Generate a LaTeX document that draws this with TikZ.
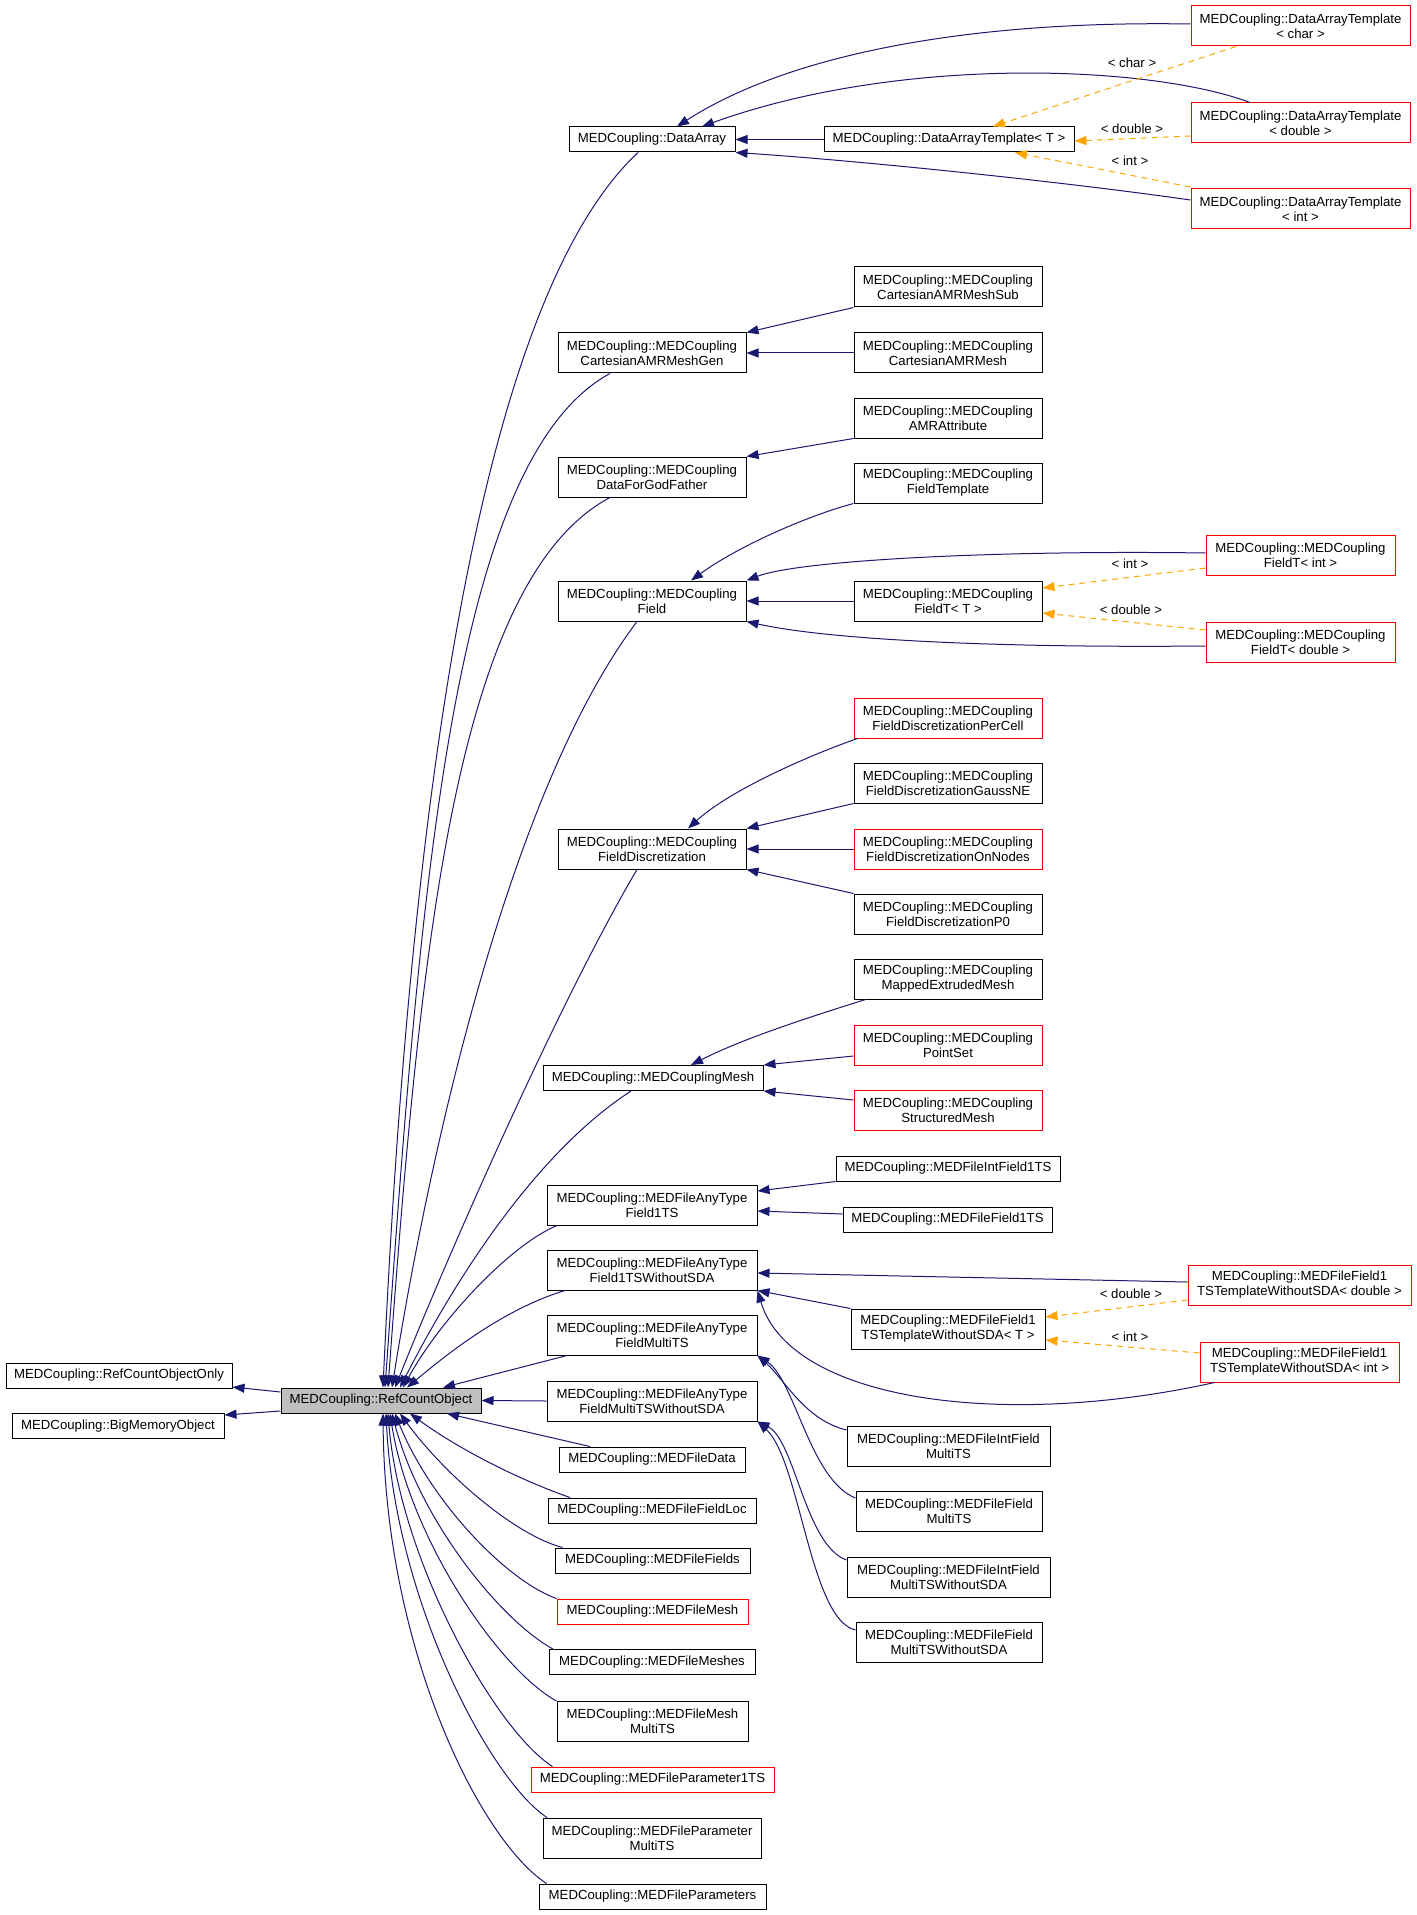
\documentclass[tikz,border=0pt]{standalone}
\usepackage{fontspec}
\setmainfont{Liberation Sans}
\usepackage{tikz}
\usetikzlibrary{arrows.meta, positioning, calc}
\definecolor{dxblue}{RGB}{25,25,112}
\definecolor{dxorange}{RGB}{255,165,0}
\definecolor{dxred}{RGB}{255,0,0}
\definecolor{dxgray}{RGB}{191,191,191}
\newcommand{\dxfont}{\fontsize{6.6}{7.5}\selectfont}
\tikzset{
  cls/.style={rectangle, draw=black, fill=white, line width=0.5pt,
    inner sep=0pt, align=center, font=\dxfont, minimum height=12.5pt},
  cls2/.style={cls, minimum height=20pt},
  redcls/.style={cls, draw=dxred},
  redcls2/.style={cls2, draw=dxred},
  rootcls/.style={cls, fill=dxgray},
  inh/.style={-{Triangle[length=6pt,width=4.5pt]}, draw=dxblue, line width=0.5pt},
  tpl/.style={-{Triangle[length=6pt,width=4.5pt]}, draw=dxorange,
    dash pattern=on 3pt off 2.5pt, line width=0.5pt},
  tlbl/.style={font=\dxfont, inner sep=0pt}
}

\begin{document}
\begin{tikzpicture}[x=0.5pt, y=-0.5pt]
  \useasboundingbox[fill=white] (0,0) rectangle (1417,1915);

  % --- root and its parents ---
  \node[rootcls, minimum width=100pt] (rco) at (381,1400.5) {MEDCoupling::RefCountObject};
  \node[cls, minimum width=113pt] (ronly) at (119,1375.5) {MEDCoupling::RefCountObjectOnly};
  \node[cls, minimum width=106pt] (bigmem) at (118,1426) {MEDCoupling::BigMemoryObject};

  % --- second column ---
  \node[cls, minimum width=83pt] (dataArray) at (652,139.5) {MEDCoupling::DataArray};
  \node[cls2, minimum width=94pt] (amrGen) at (652,353) {MEDCoupling::MEDCoupling\\CartesianAMRMeshGen};
  \node[cls2, minimum width=94pt] (godFather) at (652,477) {MEDCoupling::MEDCoupling\\DataForGodFather};
  \node[cls2, minimum width=94pt] (field) at (652,601) {MEDCoupling::MEDCoupling\\Field};
  \node[cls2, minimum width=94pt] (fdisc) at (652,849) {MEDCoupling::MEDCoupling\\FieldDiscretization};
  \node[cls, minimum width=110pt] (mesh) at (653,1078) {MEDCoupling::MEDCouplingMesh};
  \node[cls2, minimum width=105pt] (any1ts) at (652,1205) {MEDCoupling::MEDFileAnyType\\Field1TS};
  \node[cls2, minimum width=105pt] (any1tsW) at (652,1270) {MEDCoupling::MEDFileAnyType\\Field1TSWithoutSDA};
  \node[cls2, minimum width=105pt] (anyMts) at (652,1335) {MEDCoupling::MEDFileAnyType\\FieldMultiTS};
  \node[cls2, minimum width=105pt] (anyMtsW) at (652,1401) {MEDCoupling::MEDFileAnyType\\FieldMultiTSWithoutSDA};
  \node[cls, minimum width=93pt] (fileData) at (652,1459.5) {MEDCoupling::MEDFileData};
  \node[cls, minimum width=104pt] (fieldLoc) at (652,1510.5) {MEDCoupling::MEDFileFieldLoc};
  \node[cls, minimum width=97.5pt] (fields) at (652.5,1560.5) {MEDCoupling::MEDFileFields};
  \node[redcls, minimum width=95.5pt] (fileMesh) at (652.5,1611.5) {MEDCoupling::MEDFileMesh};
  \node[cls, minimum width=103pt] (meshes) at (652,1662) {MEDCoupling::MEDFileMeshes};
  \node[cls2, minimum width=95.5pt] (meshMts) at (652.5,1721.5) {MEDCoupling::MEDFileMesh\\MultiTS};
  \node[redcls, minimum width=121.5pt] (param1ts) at (652.5,1779.5) {MEDCoupling::MEDFileParameter1TS};
  \node[cls2, minimum width=109pt] (paramMts) at (652,1838) {MEDCoupling::MEDFileParameter\\MultiTS};
  \node[cls, minimum width=113.5pt] (params) at (652.5,1896.5) {MEDCoupling::MEDFileParameters};

  % --- third column ---
  \node[cls, minimum width=125pt] (datT) at (949,139.5) {MEDCoupling::DataArrayTemplate< T >};
  \node[cls2, minimum width=94pt] (amrSub) at (948,287) {MEDCoupling::MEDCoupling\\CartesianAMRMeshSub};
  \node[cls2, minimum width=94pt] (amrMesh) at (948,353) {MEDCoupling::MEDCoupling\\CartesianAMRMesh};
  \node[cls2, minimum width=94pt] (amrAttr) at (948,418) {MEDCoupling::MEDCoupling\\AMRAttribute};
  \node[cls2, minimum width=94pt] (fieldTpl) at (948,483) {MEDCoupling::MEDCoupling\\FieldTemplate};
  \node[cls2, minimum width=94pt] (fieldT) at (948,601) {MEDCoupling::MEDCoupling\\FieldT< T >};
  \node[redcls2, minimum width=94pt] (perCell) at (948,718) {MEDCoupling::MEDCoupling\\FieldDiscretizationPerCell};
  \node[cls2, minimum width=94pt] (gaussNE) at (948,783) {MEDCoupling::MEDCoupling\\FieldDiscretizationGaussNE};
  \node[redcls2, minimum width=94pt] (onNodes) at (948,849) {MEDCoupling::MEDCoupling\\FieldDiscretizationOnNodes};
  \node[cls2, minimum width=94pt] (fdP0) at (948,914) {MEDCoupling::MEDCoupling\\FieldDiscretizationP0};
  \node[cls2, minimum width=94pt] (mapped) at (948,979) {MEDCoupling::MEDCoupling\\MappedExtrudedMesh};
  \node[redcls2, minimum width=94pt] (pointSet) at (948,1045) {MEDCoupling::MEDCoupling\\PointSet};
  \node[redcls2, minimum width=94pt] (structMesh) at (948,1110) {MEDCoupling::MEDCoupling\\StructuredMesh};
  \node[cls, minimum width=112pt] (intField1ts) at (948,1168.5) {MEDCoupling::MEDFileIntField1TS};
  \node[cls, minimum width=104.5pt] (field1ts) at (947.5,1219.5) {MEDCoupling::MEDFileField1TS};
  \node[cls2, minimum width=97pt] (tplT) at (948,1329) {MEDCoupling::MEDFileField1\\TSTemplateWithoutSDA< T >};
  \node[cls2, minimum width=101.5pt] (intFieldMts) at (948.5,1446) {MEDCoupling::MEDFileIntField\\MultiTS};
  \node[cls2, minimum width=93pt] (fieldMts) at (949,1511.5) {MEDCoupling::MEDFileField\\MultiTS};
  \node[cls2, minimum width=101.5pt] (intFieldMtsW) at (948.5,1577) {MEDCoupling::MEDFileIntField\\MultiTSWithoutSDA};
  \node[cls2, minimum width=93pt] (fieldMtsW) at (949,1642) {MEDCoupling::MEDFileField\\MultiTSWithoutSDA};

  % --- template instances ---
  \node[redcls2, minimum width=109.5pt] (datChar) at (1300.5,26) {MEDCoupling::DataArrayTemplate\\< char >};
  \node[redcls2, minimum width=109.5pt] (datDouble) at (1300.5,123) {MEDCoupling::DataArrayTemplate\\< double >};
  \node[redcls2, minimum width=109.5pt] (datInt) at (1300.5,209) {MEDCoupling::DataArrayTemplate\\< int >};
  \node[redcls2, minimum width=94.5pt] (fieldTint) at (1300.5,555) {MEDCoupling::MEDCoupling\\FieldT< int >};
  \node[redcls2, minimum width=94.5pt] (fieldTdouble) at (1300.5,642) {MEDCoupling::MEDCoupling\\FieldT< double >};
  \node[redcls2, minimum width=111.5pt] (tplDouble) at (1299.5,1285) {MEDCoupling::MEDFileField1\\TSTemplateWithoutSDA< double >};
  \node[redcls2, minimum width=99.5pt] (tplInt) at (1299.5,1362) {MEDCoupling::MEDFileField1\\TSTemplateWithoutSDA< int >};

  % --- template labels ---
  \node[tlbl] (lblChar) at (1132,63) {< char >};
  \node[tlbl] (lblDouble) at (1132,129) {< double >};
  \node[tlbl] (lblInt) at (1130,161) {< int >};
  \node[tlbl] (lblFInt) at (1130,564) {< int >};
  \node[tlbl] (lblFDouble) at (1131,609.5) {< double >};
  \node[tlbl] (lblTDouble) at (1131,1293.5) {< double >};
  \node[tlbl] (lblTInt) at (1130,1336.5) {< int >};

  % --- RefCountObject parents ---
  \draw[inh] ([yshift=4.25pt]rco.west) -- ([yshift=-5.75pt]ronly.east);
  \draw[inh] ([yshift=-5.25pt]rco.west) -- ([yshift=5.5pt]bigmem.east);

  % --- children of RefCountObject, upper fan ---
  \draw[inh] ([xshift=-7pt]dataArray.south) .. controls (480,300) and (410,800) .. ([xshift=1pt]rco.north);
  \draw[inh] ([xshift=-21pt]amrGen.south) .. controls (450,460) and (420,900) .. ([xshift=2pt]rco.north);
  \draw[inh] ([xshift=-21pt]godFather.south) .. controls (455,580) and (420,950) .. ([xshift=3.5pt]rco.north);
  \draw[inh] ([xshift=-7.5pt]field.south) .. controls (510,790) and (430,1150) .. ([xshift=5.5pt]rco.north);
  \draw[inh] ([xshift=-7.5pt]fdisc.south) .. controls (560,1000) and (450,1250) .. ([xshift=7pt]rco.north);
  \draw[inh] ([xshift=-11pt]mesh.south) .. controls (540,1150) and (460,1270) .. ([xshift=9.5pt]rco.north);
  \draw[inh] ([xshift=-47.5pt]any1ts.south) .. controls (510,1245) and (440,1320) .. ([xshift=11pt]rco.north);
  \draw[inh] ([xshift=-43.5pt]any1tsW.south) .. controls (500,1310) and (440,1360) .. ([xshift=13pt]rco.north);
  \draw[inh] ([xshift=-42.5pt]anyMts.south) -- ([xshift=31pt]rco.north);
  \draw[inh] (anyMtsW.west) -- (rco.east);

  % --- children of RefCountObject, lower fan ---
  \draw[inh] ([xshift=-31pt]fileData.north) -- ([xshift=33pt]rco.south);
  \draw[inh] ([xshift=-41pt]fieldLoc.north) .. controls (520,1480) and (460,1450) .. ([xshift=14.5pt]rco.south);
  \draw[inh] ([xshift=-45pt]fields.north) .. controls (515,1535) and (445,1475) .. ([xshift=9.5pt]rco.south);
  \draw[inh] ([xshift=-48pt]fileMesh.north) .. controls (505,1580) and (430,1500) .. ([xshift=7pt]rco.south);
  \draw[inh] ([xshift=-49.5pt]meshes.north) .. controls (500,1620) and (420,1520) .. ([xshift=5.5pt]rco.south);
  \draw[inh] ([xshift=-48pt]meshMts.north) .. controls (500,1670) and (410,1540) .. ([xshift=4.5pt]rco.south);
  \draw[inh] ([xshift=-50pt]param1ts.north) .. controls (495,1730) and (400,1560) .. ([xshift=3.5pt]rco.south);
  \draw[inh] ([xshift=-52.5pt]paramMts.north) .. controls (490,1780) and (395,1600) .. ([xshift=2.5pt]rco.south);
  \draw[inh] ([xshift=-53pt]params.north) .. controls (480,1840) and (385,1650) .. ([xshift=1pt]rco.south);

  % --- DataArray ---
  \draw[inh] (datT.west) -- (dataArray.east);
  \draw[inh] ([yshift=1pt]datChar.west) .. controls (950,20) and (780,60) .. ([xshift=12.5pt]dataArray.north);
  \draw[inh] ([xshift=-25.25pt]datDouble.north) .. controls (1150,65) and (900,55) .. ([xshift=25pt]dataArray.north);
  \draw[inh] ([yshift=4.5pt]datInt.west) .. controls (1050,180) and (850,160) .. (dataArray.south east);
  \draw[tpl] ([xshift=-32.25pt]datChar.south) -- ([xshift=22pt]datT.north);
  \draw[tpl] ([yshift=-6.5pt]datDouble.west) -- ([yshift=-0.75pt]datT.east);
  \draw[tpl] ([yshift=11pt]datInt.west) -- ([xshift=33pt]datT.south);

  % --- AMR and GodFather ---
  \draw[inh] (amrSub.south west) -- (amrGen.north east);
  \draw[inh] (amrMesh.west) -- (amrGen.east);
  \draw[inh] (amrAttr.south west) -- (godFather.north east);

  % --- Field ---
  \draw[inh] (fieldTpl.south west) .. controls (810,515) and (740,545) .. ([xshift=19.5pt]field.north);
  \draw[inh] (fieldT.west) -- (field.east);
  \draw[inh] ([yshift=1pt]fieldTint.west) .. controls (1000,550) and (800,560) .. (field.north east);
  \draw[inh] ([yshift=-2pt]fieldTdouble.west) .. controls (1000,648) and (830,640) .. (field.south east);
  \draw[tpl] ([yshift=-6.5pt]fieldTint.west) -- ([yshift=6.5pt]fieldT.east);
  \draw[tpl] ([yshift=6pt]fieldTdouble.west) -- ([yshift=-6pt]fieldT.east);

  % --- FieldDiscretization ---
  \draw[inh] ([xshift=2pt]perCell.south west) .. controls (810,755) and (730,790) .. ([xshift=18pt]fdisc.north);
  \draw[inh] (gaussNE.south west) -- (fdisc.north east);
  \draw[inh] (onNodes.west) -- (fdisc.east);
  \draw[inh] (fdP0.north west) -- (fdisc.south east);

  % --- MEDCouplingMesh ---
  \draw[inh] ([xshift=6pt]mapped.south west) .. controls (800,1020) and (740,1040) .. ([xshift=19pt]mesh.north);
  \draw[inh] ([yshift=-5.5pt]pointSet.west) -- (mesh.north east);
  \draw[inh] ([yshift=5pt]structMesh.west) -- (mesh.south east);

  % --- MEDFile 1TS ---
  \draw[inh] (intField1ts.south west) -- ([yshift=7pt]any1ts.east);
  \draw[inh] ([yshift=2.75pt]field1ts.west) -- ([yshift=-3pt]any1ts.east);
  \draw[inh] ([yshift=1.5pt]tplDouble.west) -- ([yshift=-1.5pt]any1tsW.east);
  \draw[inh] (tplT.north west) -- (any1tsW.south east);
  \draw[inh] ([xshift=7.5pt]tplInt.south west) .. controls (1000,1430) and (790,1400) .. (any1tsW.south east);
  \draw[tpl] ([yshift=-7.5pt]tplDouble.west) -- ([yshift=6pt]tplT.east);
  \draw[tpl] ([yshift=4.5pt]tplInt.west) -- ([yshift=-5.5pt]tplT.east);

  % --- MEDFile MultiTS ---
  \draw[inh] ([yshift=8pt]intFieldMts.west) .. controls (805,1420) and (785,1380) .. (anyMts.south east);
  \draw[inh] ([yshift=6.75pt]fieldMts.west) .. controls (810,1480) and (795,1380) .. (anyMts.south east);
  \draw[inh] ([yshift=8.5pt]intFieldMtsW.west) .. controls (805,1545) and (795,1440) .. (anyMtsW.south east);
  \draw[inh] ([yshift=6pt]fieldMtsW.west) .. controls (810,1620) and (800,1460) .. (anyMtsW.south east);
\end{tikzpicture}
\end{document}
